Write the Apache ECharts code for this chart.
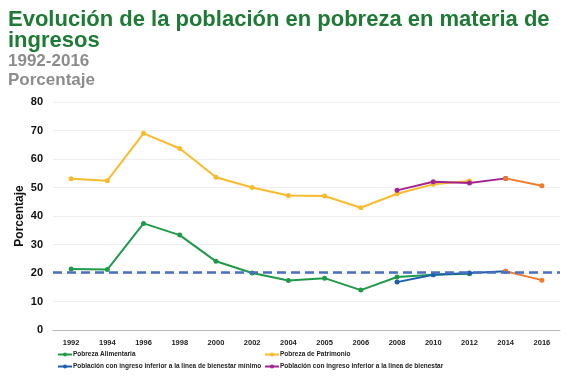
<!DOCTYPE html>
<html><head><meta charset="utf-8">
<script src="https://cdn.jsdelivr.net/npm/echarts@6/dist/echarts.min.js"></script>
<style>html,body{margin:0;padding:0;background:#fff}#c{width:576px;height:383px}</style>
</head><body><div id="c"></div>
<script>
var years = ['1992','1994','1996','1998','2000','2002','2004','2005','2006','2008','2010','2012','2014','2016'];
var alimentaria = [21.4,21.2,37.4,33.3,24.1,20.0,17.4,18.2,14.0,18.6,19.4,19.7,null,null];
var patrimonio = [53.1,52.4,69.0,63.7,53.6,50.0,47.2,47.0,42.9,47.8,51.1,52.3,null,null];
var bienestarMin = [null,null,null,null,null,null,null,null,null,16.8,19.4,20.0,20.6,null];
var bienestar = [null,null,null,null,null,null,null,null,null,49.0,52.0,51.6,53.2,null];
var minNuevo = [null,null,null,null,null,null,null,null,null,null,null,null,20.6,17.5];
var bienNuevo = [null,null,null,null,null,null,null,null,null,null,null,null,53.2,50.6];
var referencia = 20.2;
var yTicks = [0,10,20,30,40,50,60,70,80];

var chart = echarts.init(document.getElementById('c'));
function ln(name, data, color, extra){
  var s = {name:name,type:'line',data:data,symbol:'circle',symbolSize:5,
    lineStyle:{width:2,color:color},itemStyle:{color:color},connectNulls:false,z:3};
  if(extra){for(var k in extra) s[k]=extra[k];}
  return s;
}
chart.setOption({
  animation:false,
  textStyle:{fontFamily:'Liberation Sans, Arial, sans-serif'},
  title:[
    {text:'Evolución de la población en pobreza en materia de\ningresos',left:3,top:4,
     textStyle:{fontSize:22,fontWeight:'bold',color:'#1e7a34',lineHeight:21}},
    {text:'1992-2016\nPorcentaje',left:3,top:47,
     textStyle:{fontSize:17,fontWeight:'bold',color:'#8c8c8c',lineHeight:19}}
  ],
  grid:{left:53,right:16,top:102,bottom:53,outerBoundsMode:'none',containLabel:false},
  legend:[
    {data:['Pobreza Alimentaria','Población con ingreso inferior a la linea de bienestar mínimo'],
     orient:'vertical',left:52,top:346,itemWidth:14,itemHeight:5,itemGap:5,
     textStyle:{fontSize:6.5,fontWeight:'bold',color:'#222',padding:[0,0,0,-4]}},
    {data:['Pobreza de Patrimonio','Población con ingreso inferior a la linea de bienestar'],
     orient:'vertical',left:259,top:346,itemWidth:14,itemHeight:5,itemGap:5,
     textStyle:{fontSize:6.5,fontWeight:'bold',color:'#222',padding:[0,0,0,-4]}}
  ],
  xAxis:{type:'category',data:years,boundaryGap:true,
    axisLine:{lineStyle:{color:'#bbb'}},axisTick:{show:false},
    axisLabel:{fontSize:7.5,fontWeight:'bold',color:'#222',margin:9}},
  yAxis:{type:'value',min:yTicks[0],max:yTicks[yTicks.length-1],interval:10,
    name:'Porcentaje',nameLocation:'middle',nameGap:27,nameMoveOverlap:false,
    nameTextStyle:{fontSize:12,fontWeight:'bold',color:'#111'},
    axisLabel:{fontSize:11,fontWeight:'bold',color:'#111',margin:10},
    splitLine:{lineStyle:{color:'#eeeeee'}},axisLine:{show:false},axisTick:{show:false}},
  series:[
    ln('Pobreza Alimentaria',alimentaria,'#1f9a48',{
      markLine:{silent:true,symbol:'none',label:{show:false},
        lineStyle:{type:[9,5],color:'#4a6fc5',width:2.5},data:[{yAxis:referencia}]}}),
    ln('Pobreza de Patrimonio',patrimonio,'#f9bb2c'),
    ln('Población con ingreso inferior a la linea de bienestar mínimo',bienestarMin,'#1d5fae'),
    ln('Población con ingreso inferior a la linea de bienestar',bienestar,'#a3238f'),
    ln('minNuevo',minNuevo,'#f07b2c'),
    ln('bienNuevo',bienNuevo,'#f07b2c')
  ]
});
</script></body></html>
